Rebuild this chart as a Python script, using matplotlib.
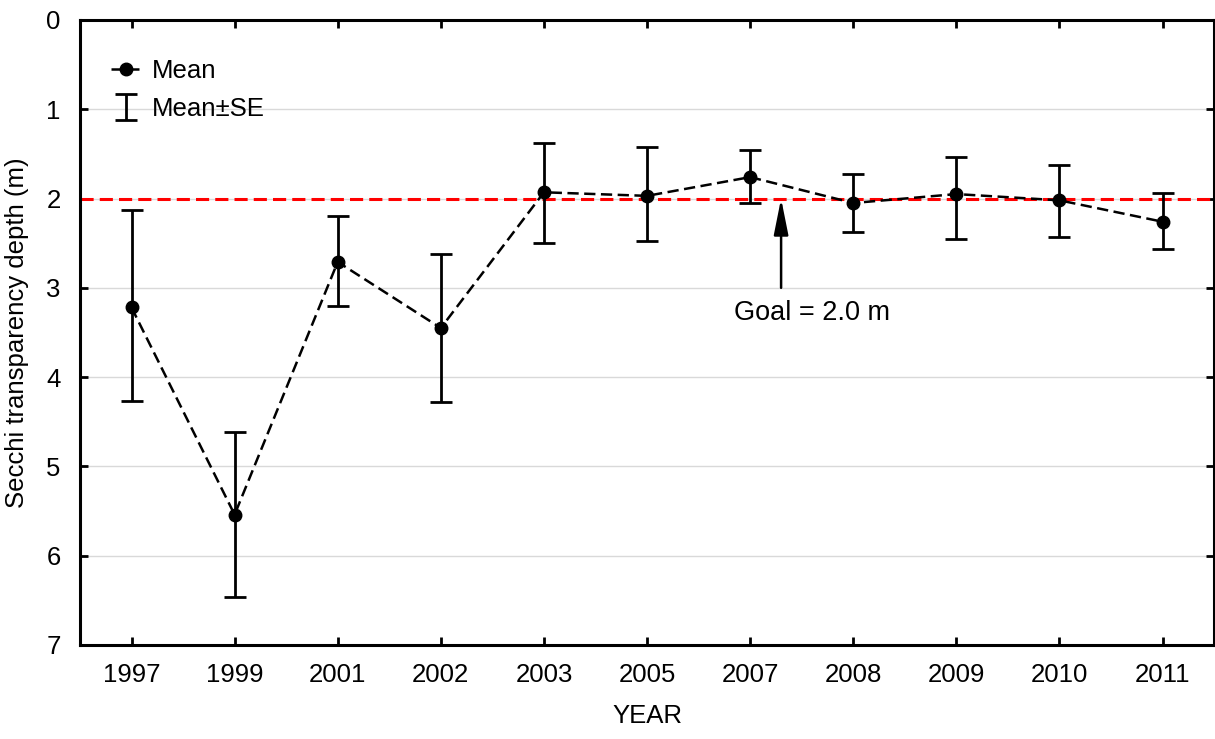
import numpy as np
import matplotlib
matplotlib.use("Agg")
import matplotlib.pyplot as plt

years = ["1997", "1999", "2001", "2002", "2003", "2005", "2007", "2008", "2009", "2010", "2011"]
mean = [3.22, 5.54, 2.71, 3.45, 1.93, 1.97, 1.76, 2.05, 1.95, 2.02, 2.26]
se_upper = [2.13, 4.61, 2.20, 2.62, 1.38, 1.42, 1.46, 1.73, 1.54, 1.62, 1.94]
se_lower = [4.27, 6.46, 3.20, 4.28, 2.50, 2.48, 2.05, 2.38, 2.45, 2.43, 2.56]
goal = 2.0

plt.rcParams['font.family'] = ['Liberation Sans', 'DejaVu Sans']
plt.rcParams['font.size'] = 18.5

x = np.arange(len(years))
mean = np.array(mean)
yerr = [mean - np.array(se_upper), np.array(se_lower) - mean]

fig = plt.figure(figsize=(12.15, 7.39), dpi=100)
ax = fig.add_axes([0.0658, 0.1272, 0.9335, 0.8458])

ax.yaxis.grid(True, color='#d9d9d9', lw=1.0)
ax.set_axisbelow(True)

ax.axhline(goal, color='#ff0000', lw=2.2, dashes=(4.3, 2.0), zorder=2)

ax.errorbar(x, mean, yerr=yerr, fmt='none', ecolor='black', elinewidth=2.0,
            capsize=8.2, capthick=2.0, label='Mean\u00b1SE', zorder=3)
ax.plot(x, mean, color='black', lw=1.8, dashes=(4.5, 2.2), marker='o', ms=9,
        label='Mean', zorder=4)

ax.annotate('', xy=(6.3, goal), xytext=(6.3, 3.0),
            arrowprops=dict(arrowstyle='-|>,head_length=1.1,head_width=0.22',
                            color='black', lw=1.8, mutation_scale=20,
                            shrinkA=0, shrinkB=0))
ax.text(6.6, 3.28, 'Goal = 2.0 m', ha='center', va='center', fontsize=19.5)

ax.set_xlim(-0.5, len(years) - 0.5)
ax.set_ylim(7, 0)
ax.set_xticks(x)
ax.set_xticklabels(years)
ax.set_yticks(range(8))

for s in ax.spines.values():
    s.set_linewidth(2.2)
ax.tick_params(direction='in', length=6, width=2, top=True, right=True)
ax.tick_params(axis='x', pad=13)
ax.tick_params(axis='y', pad=14)

ax.set_xlabel('YEAR', labelpad=12)
ax.set_ylabel('Secchi transparency depth (m)', labelpad=12)

ax.legend(loc='upper left', bbox_to_anchor=(0.007, 0.975),
          frameon=False, handlelength=1.2, handletextpad=0.4, labelspacing=0.55)

fig.savefig('out.png', dpi=100)
